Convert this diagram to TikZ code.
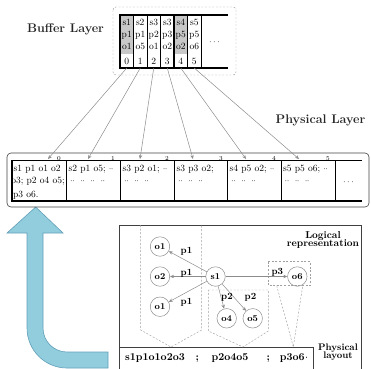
\documentclass[tikz,border=0pt]{standalone}
\usetikzlibrary{arrows.meta}
\definecolor{arrowblue}{RGB}{146,205,221}
\definecolor{arrowedge}{RGB}{98,160,186}
\definecolor{cellgray}{RGB}{200,200,200}
\definecolor{linegray}{RGB}{140,140,140}
\definecolor{dashgray}{RGB}{160,160,160}
\newcommand\setfsz[1]{\fontsize{#1}{#1}\selectfont}
% a pair of centred dots used as a filler inside the page cells
\newcommand\dd{\ensuremath{\cdot\mkern-1mu\cdot}}
\newcommand\ddrow[1]{\dd\foreach \k in {2,...,#1}{\hspace{5.5pt}\dd}}
\begin{document}
\begin{tikzpicture}[x=1pt,y=-1pt,
  tip/.style={-{Stealth[length=4pt,width=3.4pt]}},
  conn/.style={draw=linegray, line width=0.5pt, tip},
  txt/.style={inner sep=0pt, text height=0.65em, text depth=0pt},
  bcell/.style={txt, font=\setfsz{9.5}},
  pcell/.style={txt, anchor=west, font=\setfsz{9.5}},
  pidx/.style={txt, font=\setfsz{6}},
  title/.style={txt, font=\setfsz{12.5}\bfseries, text=black!85},
  thick line/.style={line width=1.4pt},
  thin line/.style={line width=0.5pt},
  obj/.style={circle, draw=linegray, line width=0.5pt, minimum size=19.5pt,
              inner sep=0pt, font=\setfsz{9}\bfseries},
  elabel/.style={txt, font=\setfsz{9.5}\bfseries},
  seg/.style={txt, font=\setfsz{10.5}\bfseries},
  group/.style={draw=dashgray, line width=0.45pt, dash pattern=on 2pt off 1.6pt},
]
\useasboundingbox (0,0) rectangle (371,368);
\clip (0,0) rectangle (371,368);

% ---------- big blue arrow ----------
\draw[fill=arrowblue, draw=arrowedge, line width=0.6pt]
  (35.7,207) -- (63,233) -- (43,233) -- (43,328)
  .. controls (43,341.25) and (53.75,352) .. (67,352)
  -- (108,352) -- (108,368) -- (67,368)
  .. controls (44.9,368) and (27,350.1) .. (27,328)
  -- (27,233) -- (7,233) -- cycle;

% ---------- buffer layer ----------
\node[title] (buftitle) at (65.5,29) {Buffer Layer};
\draw[group, rounded corners=3pt] (113,7) rectangle (236,75);
\fill[cellgray] (120,15) rectangle (133.5,53.5);
\fill[cellgray] (174,15) rectangle (187.5,53.5);
\foreach \i/\s/\p/\o in {0/s1/p1/o1, 1/s2/p1/o5, 2/s3/p2/o1,
                         3/s3/p3/o2, 4/s4/p5/o2, 5/s5/p5/o6} {
  \pgfmathsetmacro\cx{126.75+13.5*\i}
  \node[bcell] (bs\i) at (\cx,22.7) {\s};
  \node[bcell] (bp\i) at (\cx,34.7) {\p};
  \node[bcell] (bo\i) at (\cx,46.7) {\o};
  \node[bcell] (bi\i) at (\cx,61) {\i};
  \coordinate (b\i) at (\cx,68);
}
\node[bcell] (bdots) at (214.5,41.7) {$\cdots$};
\foreach \x in {133.5,147,160.5,187.5,201}
  \draw[thin line] (\x,15) -- (\x,68);
\draw[thick line] (120,15) -- (120,68);
\draw[thick line] (174,15) -- (174,68);
\draw[thick line] (119.3,15) -- (228,15);
\draw[thick line] (119.3,68) -- (228,68);

% ---------- physical layer ----------
\node[title] (phystitle) at (320.5,120) {Physical Layer};
\draw[line width=0.6pt, draw=black!75, rounded corners=4pt] (7,153) rectangle (369,207);

\foreach \i/\ax/\nx in {0/48/59, 1/88/113, 2/140/167, 3/193/221, 4/246/274, 5/299/328} {
  \coordinate (q\i) at (\ax,159);
  \node[pidx] (qi\i) at (\nx,157.3) {\i};
}

\node[pcell] (c0a) at (13.5,168.3) {s1 p1 o1 o2};
\node[pcell] (c0b) at (11.2,180.7) {o3; p2 o4 o5;};
\node[pcell] (c0c) at (13,194.3) {p3 o6.};
\node[pcell] (c1a) at (68.5,168.3) {s2 p1 o5; \dd};
\node[pcell] (c1b) at (70,180.7) {\ddrow{4}};
\node[pcell] (c2a) at (122.5,168.3) {s3 p2 o1; \dd};
\node[pcell] (c2b) at (124,180.7) {\ddrow{3}};
\node[pcell] (c3a) at (176.5,168.3) {s3 p3 o2;};
\node[pcell] (c3b) at (178,180.7) {\ddrow{3}};
\node[pcell] (c4a) at (229.5,168.3) {s4 p5 o2; \dd};
\node[pcell] (c4b) at (231,180.7) {\ddrow{3}};
\node[pcell] (c5a) at (283,168.3) {s5 p5 o6; \dd};
\node[pcell] (c5b) at (284.5,180.7) {\ddrow{3}};
\node[bcell] (pdots) at (348.5,181.7) {$\cdots$};

\foreach \x in {66.7,120.7,174.3,281,335}
  \draw[thin line] (\x,160.7) -- (\x,201);
\draw[thick line] (12,160.7) -- (12,201);
\draw[thick line] (227.7,160.7) -- (227.7,201);
\draw[thick line] (11.3,160.7) -- (361.7,160.7);
\draw[thick line] (11.3,201) -- (361.7,201);

% buffer slots mapped onto physical pages
\foreach \i in {0,...,5}
  \draw[conn] (b\i) -- (q\i);

% ---------- logical representation ----------
\draw[line width=0.6pt, draw=black!75] (119.3,225) rectangle (361.7,372);
\draw[line width=0.6pt, draw=black!75] (119.3,347) -- (313,347) -- (313,372);

\node[txt, align=center, font=\setfsz{10}\bfseries, text height=, text depth=]
  (logtitle) at (323,240) {Logical\\[-1.5pt]representation};
\node[txt, align=center, font=\setfsz{9.5}\bfseries, text height=, text depth=]
  (laytitle) at (338,352.5) {Physical\\[-1.5pt]layout};

% grouping outlines
\draw[group] (140.7,225) -- (140.7,330) -- (171,347) -- (201.7,330) -- (201.7,225);
\draw[group] (208.3,290) -- (268.3,290) -- (268.3,331) -- (243,347)
  -- (208.3,331) -- cycle;
\draw[group] (268.3,261.7) rectangle (310,285.7);
\coordinate (r1) at (276.7,285.7);
\coordinate (r2) at (302.7,285.7);
\coordinate (rapex) at (293.3,347);
\draw[group] (r1) -- (rapex) -- (r2);

% nodes
\node[obj] (o1a) at (160,246.5) {o1};
\node[obj] (o2)  at (160,276.5) {o2};
\node[obj] (o1b) at (160,306.7) {o1};
\node[obj] (s1)  at (215.5,276.5) {s1};
\node[obj] (o4)  at (226.7,318.3) {o4};
\node[obj] (o5)  at (252.7,318.3) {o5};
\node[obj] (o6)  at (297.3,276.5) {o6};

\draw[conn] (s1) -- (o1a);
\draw[conn] (s1) -- (o2);
\draw[conn] (s1) -- (o1b);
\draw[conn] (s1) -- (o4);
\draw[conn] (s1) -- (o5);
\draw[conn] (s1) -- (o6);

\node[elabel] (l1) at (186.5,250) {p1};
\node[elabel] (l2) at (186.5,271.8) {p1};
\node[elabel] (l3) at (186.5,301) {p1};
\node[elabel] (l4) at (227,296.5) {p2};
\node[elabel] (l5) at (250.5,296.5) {p2};
\node[elabel] (l6) at (277.3,271.5) {p3};

% serialised layout
\node[seg] (seg1) at (155,357.7) {s1p1o1o2o3};
\node[seg] (sc1) at (197.3,357.7) {;};
\node[seg] (seg2) at (230,357.7) {p2o4o5};
\node[seg] (sc2) at (268.3,357.7) {;};
\node[seg] (seg3) at (294,357.7) {p3o6\kern0.5pt$\cdot$};
\end{tikzpicture}
\end{document}
